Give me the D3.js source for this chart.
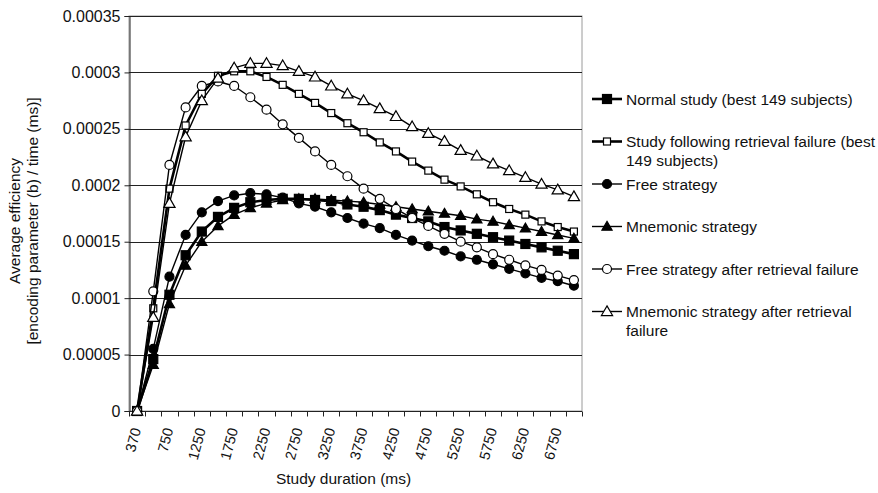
<!DOCTYPE html>
<html>
<head>
<meta charset="utf-8">
<script src="https://cdn.jsdelivr.net/npm/d3@7/dist/d3.min.js"></script>
<style>
  html, body { margin: 0; padding: 0; background: #fff; }
  svg { display: block; font-family: "Liberation Sans", Arial, Helvetica, sans-serif; }
</style>
</head>
<body>
<svg id="chart" width="878" height="493"></svg>
<script>
// Study durations (ms), one category per measurement
const durations = [370, 500, 750, 1000, 1250, 1500, 1750, 2000, 2250, 2500, 2750, 3000,
  3250, 3500, 3750, 4000, 4250, 4500, 4750, 5000, 5250, 5500, 5750, 6000, 6250, 6500, 6750, 7000];

// Average efficiency per series
const normalStudy = [0, 0.000046, 0.000103, 0.000138, 0.000159, 0.000172, 0.000180, 0.000185, 0.000187,
  0.000188, 0.000188, 0.000187, 0.000186, 0.000183, 0.000181, 0.000178, 0.000174, 0.000171, 0.000168,
  0.000163, 0.000160, 0.000157, 0.000154, 0.000151, 0.000148, 0.000145, 0.000142, 0.000139];
const studyAfterFailure = [0, 0.000091, 0.000197, 0.000253, 0.000281, 0.000297, 0.000301, 0.000301,
  0.000296, 0.000289, 0.000281, 0.000273, 0.000264, 0.000255, 0.000247, 0.000238, 0.000230, 0.000221,
  0.000213, 0.000205, 0.000199, 0.000192, 0.000185, 0.000179, 0.000174, 0.000168, 0.000163, 0.000159];
const freeStrategy = [0, 0.000055, 0.000119, 0.000156, 0.000176, 0.000186, 0.000191, 0.000193, 0.000192,
  0.000189, 0.000184, 0.000181, 0.000176, 0.000171, 0.000166, 0.000162, 0.000156, 0.000151, 0.000146,
  0.000142, 0.000137, 0.000134, 0.000130, 0.000126, 0.000122, 0.000118, 0.000115, 0.000111];
const mnemonicStrategy = [0, 0.000041, 0.000095, 0.000129, 0.000150, 0.000164, 0.000174, 0.000180,
  0.000184, 0.000187, 0.000188, 0.000188, 0.000187, 0.000186, 0.000185, 0.000183, 0.000181, 0.000179,
  0.000177, 0.000175, 0.000173, 0.000170, 0.000168, 0.000165, 0.000162, 0.000159, 0.000156, 0.000153];
const freeAfterFailure = [0, 0.000106, 0.000218, 0.000269, 0.000288, 0.000292, 0.000288, 0.000278,
  0.000267, 0.000254, 0.000242, 0.000230, 0.000218, 0.000208, 0.000197, 0.000188, 0.000179, 0.000171,
  0.000164, 0.000157, 0.000150, 0.000145, 0.000139, 0.000134, 0.000129, 0.000125, 0.000120, 0.000116];
const mnemonicAfterFailure = [0, 0.000083, 0.000184, 0.000243, 0.000275, 0.000295, 0.000304, 0.000308,
  0.000308, 0.000306, 0.000301, 0.000296, 0.000288, 0.000281, 0.000275, 0.000268, 0.000261, 0.000252,
  0.000246, 0.000239, 0.000231, 0.000226, 0.000219, 0.000213, 0.000207, 0.000201, 0.000196, 0.000190];

// Legend names
const seriesNames = [
  ["Normal study (best 149 subjects)"],
  ["Study following retrieval failure (best", "149 subjects)"],
  ["Free strategy"],
  ["Mnemonic strategy"],
  ["Free strategy after retrieval failure"],
  ["Mnemonic strategy after retrieval", "failure"]
];

// Y axis ticks and their labels
const yTickValues = [0, 0.00005, 0.0001, 0.00015, 0.0002, 0.00025, 0.0003, 0.00035];
const yTickLabels = ["0", "0.00005", "0.0001", "0.00015", "0.0002", "0.00025", "0.0003", "0.00035"];

const yTitleLines = ["Average efficiency", "[encoding parameter (b) / time (ms)]"];
const xTitle = "Study duration (ms)";

// Marker style per series
const seriesStyle = [
  { values: normalStudy,          shape: "square",   fill: "#000", size: 9,  width: 2.6 },
  { values: studyAfterFailure,    shape: "square",   fill: "#fff", size: 7,  width: 2.6 },
  { values: freeStrategy,         shape: "circle",   fill: "#000", size: 9,  width: 1.4 },
  { values: mnemonicStrategy,     shape: "triangle", fill: "#000", size: 10, width: 1.4 },
  { values: freeAfterFailure,     shape: "circle",   fill: "#fff", size: 9,  width: 1.4 },
  { values: mnemonicAfterFailure, shape: "triangle", fill: "#fff", size: 11, width: 1.4 }
];

const svg = d3.select("#chart");
const plot = { left: 129, right: 582, top: 16, bottom: 411 };

const x = d3.scaleBand().domain(durations).range([plot.left, plot.right]).padding(0);
const y = d3.scaleLinear().domain([0, 0.00035]).range([plot.bottom, plot.top]);
const cx = d => x(d) + x.bandwidth() / 2;

// Plot frame (right side shows as a light border)
svg.append("rect")
  .attr("x", plot.left).attr("y", plot.top)
  .attr("width", plot.right - plot.left).attr("height", plot.bottom - plot.top)
  .attr("fill", "none").attr("stroke", "#9a9a9a").attr("stroke-width", 1);

// Horizontal gridlines
svg.append("g")
  .selectAll("line")
  .data(yTickValues.slice(1))
  .join("line")
  .attr("x1", plot.left).attr("x2", plot.right)
  .attr("y1", d => Math.round(y(d)) + 0.5).attr("y2", d => Math.round(y(d)) + 0.5)
  .attr("stroke", "#222").attr("stroke-width", 1);

// Y axis
const yAxis = d3.axisLeft(y)
  .tickValues(yTickValues)
  .tickFormat((d, i) => yTickLabels[i])
  .tickSize(5).tickPadding(4);
const gy = svg.append("g").attr("transform", `translate(${plot.left + 0.5},0)`).call(yAxis);
gy.select(".domain").attr("stroke", "#222");
gy.selectAll(".tick line").attr("stroke", "#222");
gy.selectAll(".tick text").attr("font-size", 16).attr("fill", "#111").attr("font-family", null);

// X axis: ticks between categories, labels on every other category
const gx = svg.append("g").attr("transform", `translate(0,${plot.bottom + 0.5})`);
gx.append("line")
  .attr("x1", plot.left).attr("x2", plot.right)
  .attr("stroke", "#222");
const boundaries = durations.map(d => x(d)).concat([plot.right]);
gx.selectAll("line.tk")
  .data(boundaries)
  .join("line").attr("class", "tk")
  .attr("x1", d => Math.round(d) + 0.5).attr("x2", d => Math.round(d) + 0.5)
  .attr("y1", 0).attr("y2", 5)
  .attr("stroke", "#222");
gx.selectAll("text")
  .data(durations.filter((d, i) => i % 2 === 0))
  .join("text")
  .attr("transform", d => `translate(${cx(d) + 4},${18}) rotate(-75)`)
  .attr("text-anchor", "end")
  .attr("font-size", 14.5)
  .attr("fill", "#111")
  .text(d => d);

// Axis titles
svg.append("text")
  .attr("x", (plot.left + plot.right) / 2 - 12).attr("y", 484)
  .attr("text-anchor", "middle").attr("font-size", 15.5).attr("fill", "#111")
  .text(xTitle);
yTitleLines.forEach((t, i) => {
  svg.append("text")
    .attr("transform", `translate(${20 + i * 18},221) rotate(-90)`)
    .attr("text-anchor", "middle").attr("font-size", 15.5).attr("fill", "#111")
    .text(t);
});

// Marker drawing helper
function drawMarker(g, s, px, py) {
  const h = s.size / 2;
  if (s.shape === "square") {
    g.append("rect").attr("x", px - h).attr("y", py - h).attr("width", s.size).attr("height", s.size)
      .attr("fill", s.fill).attr("stroke", "#000").attr("stroke-width", 1.2);
  } else if (s.shape === "circle") {
    g.append("circle").attr("cx", px).attr("cy", py).attr("r", h)
      .attr("fill", s.fill).attr("stroke", "#000").attr("stroke-width", 1.2);
  } else {
    const t = d3.symbol().type(d3.symbolTriangle).size(s.size * s.size * 0.45);
    g.append("path").attr("d", t()).attr("transform", `translate(${px},${py + 0.8})`)
      .attr("fill", s.fill).attr("stroke", "#000").attr("stroke-width", 1.2);
  }
}

// Series lines and markers
const line = d3.line().x((v, i) => cx(durations[i])).y(v => y(v));
seriesStyle.forEach(s => {
  const g = svg.append("g");
  g.append("path").attr("d", line(s.values))
    .attr("fill", "none").attr("stroke", "#000").attr("stroke-width", s.width)
    .attr("stroke-linejoin", "round");
  s.values.forEach((v, i) => drawMarker(g, s, cx(durations[i]), y(v)));
});

// Legend
const legend = svg.append("g");
seriesStyle.forEach((s, k) => {
  const ly = 99 + k * 42.5;
  const g = legend.append("g");
  g.append("line").attr("x1", 592).attr("x2", 622).attr("y1", ly).attr("y2", ly)
    .attr("stroke", "#000").attr("stroke-width", s.width);
  drawMarker(g, s, 607, ly);
  seriesNames[k].forEach((t, j) => {
    g.append("text").attr("x", 626).attr("y", ly + 5.5 + j * 18.5)
      .attr("font-size", 15.5).attr("fill", "#111").text(t);
  });
});
</script>
</body>
</html>
